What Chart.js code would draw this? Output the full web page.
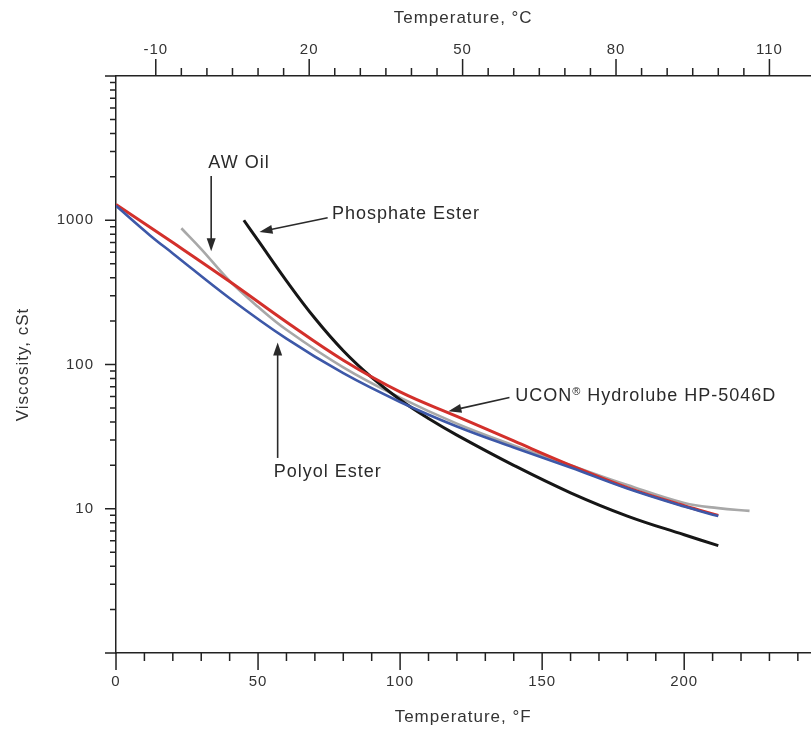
<!DOCTYPE html>
<html>
<head>
<meta charset="utf-8">
<script src="https://cdn.jsdelivr.net/npm/chart.js@4.4.0/dist/chart.umd.min.js"></script>
<style>
  body { margin: 0; background: #fff; }
  #wrap { width: 812px; height: 733px; }
</style>
</head>
<body>
<div id="wrap"><canvas id="viscChart" width="812" height="733"></canvas></div>
<script>
// temperature in °F, viscosity in cSt
const uconTemp = [0, 20, 40, 60, 80, 100, 120, 140, 160, 180, 200, 212];
const uconVisc = [1288, 700, 376, 197, 107, 64.6, 43.7, 29.5, 20.0, 14.0, 10.5, 9.0];

const polyolTemp = [0, 12, 20, 40, 60, 80, 100, 120, 140, 160, 180, 200, 212];
const polyolVisc = [1259, 785, 589, 288, 151, 87, 55, 37.2, 26.6, 19.3, 13.8, 10.35, 8.9];

const phosTemp = [45, 50, 60, 70, 80, 90, 100, 110, 120, 140, 160, 180, 200, 212];
const phosVisc = [1000, 724, 380, 209, 124.5, 81.3, 56.9, 42.2, 32.4, 20, 12.9, 8.9, 6.6, 5.55];

const awTemp = [23, 30, 40, 50, 60, 80, 100, 120, 140, 160, 180, 200, 212, 223];
const awVisc = [880, 631, 380, 251, 174, 95.5, 58.9, 38.9, 27.5, 20, 14.6, 10.96, 10.1, 9.66];

const fLabels = [0, 50, 100, 150, 200];
const cLabels = [-10, 20, 50, 80, 110];
const viscLabels = [10, 100, 1000];

const FONT = "'Liberation Sans', Arial, sans-serif";
const INK = '#222';

const toPoints = (xs, ys) => xs.map((t, i) => ({ x: t, y: ys[i] }));

// callouts: text anchor and arrow in data units (°F, cSt)
const callouts = [
  { text: ['AW Oil'], at: [32.5, 2500], from: [33.5, 2030], to: [33.5, 610] },
  { text: ['Phosphate Ester'], at: [76, 1100], from: [74.5, 1040], to: [50.5, 830] },
  { text: ['UCON', '®', ' Hydrolube HP-5046D'], at: [140.5, 60], from: [138.5, 59], to: [117, 47.5] },
  { text: ['Polyol Ester'], at: [55.5, 17.9], from: [56.9, 22.5], to: [56.9, 142] }
];

const spacing = {
  id: 'spacing',
  beforeDraw(chart) { chart.ctx.letterSpacing = '1px'; }
};

const axisTicks = {
  id: 'axisTicks',
  afterDraw(chart) {
    const { ctx, chartArea: a, scales: { x, x2, y } } = chart;
    ctx.save();
    ctx.strokeStyle = INK;
    ctx.lineWidth = 1.5;
    ctx.beginPath();
    for (let f = 0; f <= 240; f += 10) {
      const px = x.getPixelForValue(f);
      ctx.moveTo(px, a.bottom);
      ctx.lineTo(px, a.bottom + (f % 50 === 0 ? 17 : 8));
    }
    for (let c = -10; c <= 110; c += 5) {
      const px = x2.getPixelForValue(c);
      ctx.moveTo(px, a.top);
      ctx.lineTo(px, a.top - ((c + 10) % 30 === 0 ? 17 : 8));
    }
    for (let d = 1; d <= 10000; d *= 10) {
      for (let m = 1; m < 10; m++) {
        if (d * m > 10000) break;
        const py = y.getPixelForValue(d * m);
        ctx.moveTo(a.left, py);
        ctx.lineTo(a.left - (m === 1 ? 11 : 6), py);
      }
    }
    ctx.stroke();
    ctx.restore();
  }
};

const arrowNotes = {
  id: 'arrowNotes',
  afterDatasetsDraw(chart) {
    const { ctx, scales: { x, y } } = chart;
    ctx.save();
    ctx.letterSpacing = '1px';
    ctx.fillStyle = '#2a2a2a';
    ctx.strokeStyle = '#2a2a2a';
    ctx.lineWidth = 1.6;
    ctx.textBaseline = 'middle';
    callouts.forEach(n => {
      let tx = x.getPixelForValue(n.at[0]);
      const ty = y.getPixelForValue(n.at[1]);
      n.text.forEach(part => {
        const sup = part === '®';
        ctx.font = (sup ? '11px ' : '18px ') + FONT;
        ctx.fillText(part, tx, sup ? ty - 5 : ty);
        tx += ctx.measureText(part).width;
      });
      const x1 = x.getPixelForValue(n.from[0]), y1 = y.getPixelForValue(n.from[1]);
      const x2 = x.getPixelForValue(n.to[0]), y2 = y.getPixelForValue(n.to[1]);
      const ang = Math.atan2(y2 - y1, x2 - x1);
      const hl = 13, hw = 4.5;
      ctx.beginPath();
      ctx.moveTo(x1, y1);
      ctx.lineTo(x2 - Math.cos(ang) * hl * 0.8, y2 - Math.sin(ang) * hl * 0.8);
      ctx.stroke();
      ctx.beginPath();
      ctx.moveTo(x2, y2);
      ctx.lineTo(x2 - Math.cos(ang) * hl - Math.sin(ang) * hw, y2 - Math.sin(ang) * hl + Math.cos(ang) * hw);
      ctx.lineTo(x2 - Math.cos(ang) * hl + Math.sin(ang) * hw, y2 - Math.sin(ang) * hl - Math.cos(ang) * hw);
      ctx.closePath();
      ctx.fill();
    });
    ctx.restore();
  }
};

const fMax = 244.4;
const fToC = f => (f - 32) / 1.8;

const line = (data, color, width) => ({
  data, borderColor: color, borderWidth: width,
  pointRadius: 0, fill: false, tension: 0.4
});

const ctx = document.getElementById('viscChart').getContext('2d');
const viscChart = new Chart(ctx, {
  type: 'line',
  data: {
    datasets: [
      line(toPoints(polyolTemp, polyolVisc), '#3d58a8', 2.6),
      line(toPoints(uconTemp, uconVisc), '#d3302b', 3),
      line(toPoints(phosTemp, phosVisc), '#161616', 3),
      line(toPoints(awTemp, awVisc), '#a8a8a8', 2.6)
    ]
  },
  options: {
    responsive: false,
    animation: false,
    layout: { padding: 0 },
    plugins: { legend: { display: false }, tooltip: { enabled: false } },
    scales: {
      x: {
        type: 'linear', position: 'bottom', min: 0, max: fMax,
        afterFit: s => { s.height = 80; },
        grid: { display: false, drawTicks: false },
        border: { display: true, color: INK, width: 1.5 },
        ticks: {
          stepSize: 50, autoSkip: false, maxRotation: 0, includeBounds: false, padding: 20,
          color: '#333', font: { family: FONT, size: 15 },
          callback: v => fLabels.includes(v) ? v : ''
        },
        title: { display: true, text: 'Temperature, °F', color: '#333',
          font: { family: FONT, size: 17 }, padding: { top: 0, bottom: 5 } }
      },
      x2: {
        type: 'linear', position: 'top', min: fToC(0), max: fToC(fMax),
        afterFit: s => { s.height = 76; },
        grid: { display: false, drawTicks: false },
        border: { display: true, color: INK, width: 1.5 },
        ticks: {
          stepSize: 5, autoSkip: false, maxRotation: 0, includeBounds: false, padding: 17,
          color: '#333', font: { family: FONT, size: 15 },
          callback: v => cLabels.includes(Math.round(v)) ? Math.round(v) : ''
        },
        title: { display: true, text: 'Temperature, °C', color: '#333',
          font: { family: FONT, size: 17 }, padding: { top: 8, bottom: 0 } }
      },
      y: {
        type: 'logarithmic', position: 'left', min: 1, max: 10000,
        afterFit: s => { s.width = 116; },
        grid: { display: false, drawTicks: false },
        border: { display: true, color: INK, width: 1.5 },
        ticks: {
          autoSkip: false, padding: 22,
          color: '#333', font: { family: FONT, size: 15 },
          callback: v => viscLabels.includes(v) ? v : ''
        },
        title: { display: true, text: 'Viscosity, cSt', color: '#333',
          font: { family: FONT, size: 17 }, padding: { top: 13, bottom: 0 } }
      }
    }
  },
  plugins: [spacing, axisTicks, arrowNotes]
});
</script>
</body>
</html>
